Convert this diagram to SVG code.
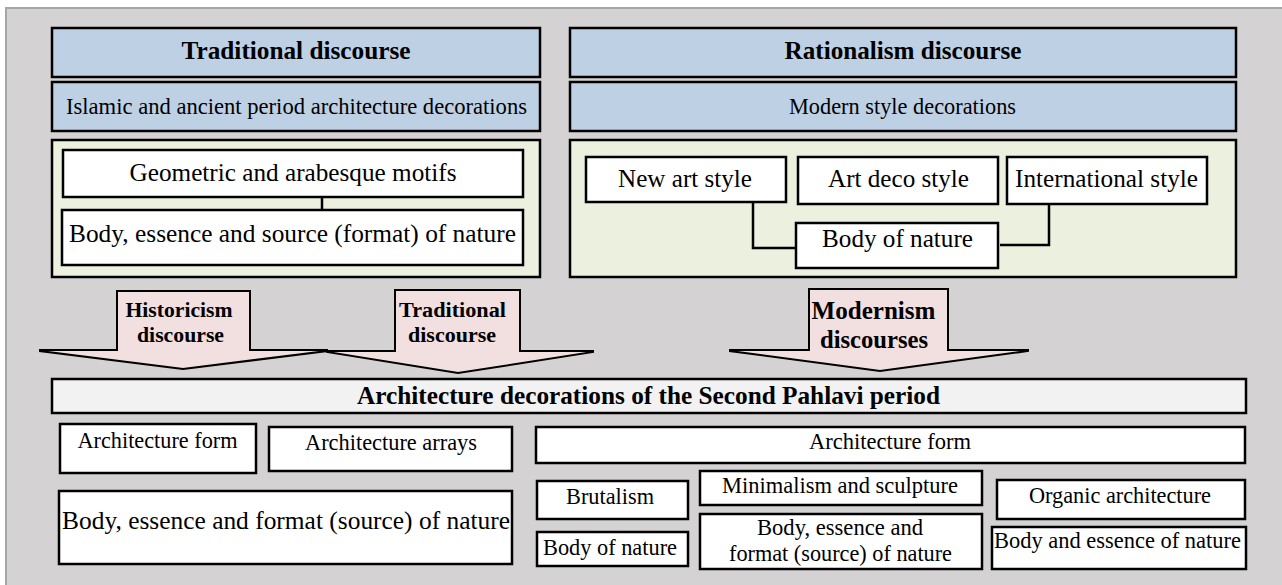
<svg xmlns="http://www.w3.org/2000/svg" width="1282" height="585" viewBox="0 0 1282 585">
<style>
.hdr{fill:#bed0e4;stroke:#000;stroke-width:2.5}
.grn{fill:#ebf1de;stroke:#000;stroke-width:2.5}
.box{fill:#fff;stroke:#000;stroke-width:2.5}
.bar{fill:#f2f2f2;stroke:#000;stroke-width:2.5}
.arr{fill:#f2dfe0;stroke:#000;stroke-width:2;stroke-linejoin:miter}
.con{fill:none;stroke:#000;stroke-width:2.5}
text{fill:#000;text-anchor:middle}
.b{font-weight:bold}
.r{font-size:22.4px}
.l{font-size:25px}
.h{font-size:26px}
.a{font-size:21.7px}
</style>
<rect x="0" y="0" width="1282" height="585" fill="#fff"/>
<rect x="6" y="8" width="1290" height="590" fill="#d4d2d3" stroke="#a6a6a6" stroke-width="2"/>
<g font-family="'Liberation Serif', 'Times New Roman', serif">
<g id="traditional-header">
<rect class="hdr" x="52" y="28" width="488" height="49"/>
<text class="b h" x="296" y="59" textLength="229" lengthAdjust="spacingAndGlyphs">Traditional discourse</text>
</g>
<g id="islamic">
<rect class="hdr" x="52" y="82" width="488" height="49"/>
<text class="r" x="296.5" y="114" textLength="461" lengthAdjust="spacingAndGlyphs">Islamic and ancient period architecture decorations</text>
</g>
<g id="left-panel">
<rect class="grn" x="52" y="140" width="488" height="137"/>
</g>
<g id="geometric">
<rect class="box" x="63" y="150" width="460" height="47"/>
<text class="l" x="293" y="181" textLength="327" lengthAdjust="spacingAndGlyphs">Geometric and arabesque motifs</text>
</g>
<g id="body-essence-source">
<rect class="box" x="62" y="210" width="461" height="55"/>
<text class="l" x="292.5" y="242" textLength="447" lengthAdjust="spacingAndGlyphs">Body, essence and source (format) of nature</text>
</g>

<g id="rationalism-header">
<rect class="hdr" x="570" y="28" width="666" height="49"/>
<text class="b h" x="903" y="59" textLength="237" lengthAdjust="spacingAndGlyphs">Rationalism discourse</text>
</g>
<g id="modern-style">
<rect class="hdr" x="570" y="82" width="666" height="49"/>
<text class="r" x="902.5" y="114" textLength="227" lengthAdjust="spacingAndGlyphs">Modern style decorations</text>
</g>
<g id="right-panel">
<rect class="grn" x="570" y="140" width="666" height="137"/>
</g>
<g id="new-art">
<rect class="box" x="586" y="157" width="200" height="45"/>
<text class="l" x="685" y="187" textLength="134" lengthAdjust="spacingAndGlyphs">New art style</text>
</g>
<g id="art-deco">
<rect class="box" x="798" y="157" width="200" height="47"/>
<text class="l" x="898.5" y="187" textLength="141" lengthAdjust="spacingAndGlyphs">Art deco style</text>
</g>
<g id="international">
<rect class="box" x="1007" y="157" width="200" height="47"/>
<text class="l" x="1106.5" y="187" textLength="183" lengthAdjust="spacingAndGlyphs">International style</text>
</g>
<g id="body-of-nature-top">
<rect class="box" x="796" y="223" width="202" height="45"/>
<text class="l" x="897.5" y="247" textLength="151" lengthAdjust="spacingAndGlyphs">Body of nature</text>
</g>

<g id="connectors">
<line class="con" x1="322" y1="197" x2="322" y2="210"/>
<polyline class="con" points="753,202 753,248 796,248"/>
<polyline class="con" points="1000,245 1049,245 1049,204"/>
</g>

<g id="arrow-historicism">
<polygon class="arr" points="117,291 250,291 250,350 327,350 327,351 183,369 40,351 40,350 117,350"/>
<text class="b a" x="179" y="317" textLength="107" lengthAdjust="spacingAndGlyphs">Historicism</text>
<text class="b a" x="180.5" y="342" textLength="87" lengthAdjust="spacingAndGlyphs">discourse</text>
</g>
<g id="arrow-traditional">
<polygon class="arr" points="395,290 520,290 520,351 593,351 593,352 458,373 327,352 327,351 395,351"/>
<text class="b a" x="452.5" y="317" textLength="107" lengthAdjust="spacingAndGlyphs">Traditional</text>
<text class="b a" x="452" y="342" textLength="88" lengthAdjust="spacingAndGlyphs">discourse</text>
</g>
<g id="arrow-modernism">
<polygon class="arr" points="809,289 948,289 948,350 1028,350 1028,351 880,371 730,351 730,350 809,350"/>
<text class="b l" x="873.5" y="319" textLength="124" lengthAdjust="spacingAndGlyphs">Modernism</text>
<text class="b l" x="874" y="348" textLength="108" lengthAdjust="spacingAndGlyphs">discourses</text>
</g>

<g id="second-pahlavi">
<rect class="bar" x="52" y="379" width="1194" height="34"/>
<text class="b l" x="648.5" y="404" textLength="583" lengthAdjust="spacingAndGlyphs">Architecture decorations of the Second Pahlavi period</text>
</g>

<g id="arch-form-left">
<rect class="box" x="60" y="424" width="196" height="49"/>
<text class="r" x="157.5" y="448" textLength="160" lengthAdjust="spacingAndGlyphs">Architecture form</text>
</g>
<g id="arch-arrays">
<rect class="box" x="269" y="427" width="243" height="44"/>
<text class="r" x="391" y="450" textLength="172" lengthAdjust="spacingAndGlyphs">Architecture arrays</text>
</g>
<g id="body-essence-format-left">
<rect class="box" x="59" y="491" width="453" height="73"/>
<text class="l" x="286" y="529" textLength="448" lengthAdjust="spacingAndGlyphs">Body, essence and format (source) of nature</text>
</g>
<g id="arch-form-right">
<rect class="box" x="536" y="427" width="709" height="36"/>
<text class="r" x="890" y="449" textLength="162" lengthAdjust="spacingAndGlyphs">Architecture form</text>
</g>
<g id="brutalism">
<rect class="box" x="537" y="481" width="151" height="38"/>
<text class="r" x="610" y="504" textLength="88" lengthAdjust="spacingAndGlyphs">Brutalism</text>
</g>
<g id="body-of-nature-bottom">
<rect class="box" x="537" y="532" width="151" height="34"/>
<text class="r" x="610" y="555" textLength="134" lengthAdjust="spacingAndGlyphs">Body of nature</text>
</g>
<g id="minimalism">
<rect class="box" x="700" y="471" width="282" height="34"/>
<text class="r" x="840" y="493" textLength="236" lengthAdjust="spacingAndGlyphs">Minimalism and sculpture</text>
</g>
<g id="body-essence-format-right">
<rect class="box" x="700" y="514" width="282" height="55"/>
<text class="r" x="840" y="535" textLength="166" lengthAdjust="spacingAndGlyphs">Body, essence and</text>
<text class="r" x="840.5" y="561" textLength="223" lengthAdjust="spacingAndGlyphs">format (source) of nature</text>
</g>
<g id="organic">
<rect class="box" x="997" y="480" width="248" height="39"/>
<text class="r" x="1120" y="503" textLength="182" lengthAdjust="spacingAndGlyphs">Organic architecture</text>
</g>
<g id="body-and-essence">
<rect class="box" x="992" y="527" width="254" height="42"/>
<text class="r" x="1117.5" y="548" textLength="247" lengthAdjust="spacingAndGlyphs">Body and essence of nature</text>
</g>
</g>
</svg>
